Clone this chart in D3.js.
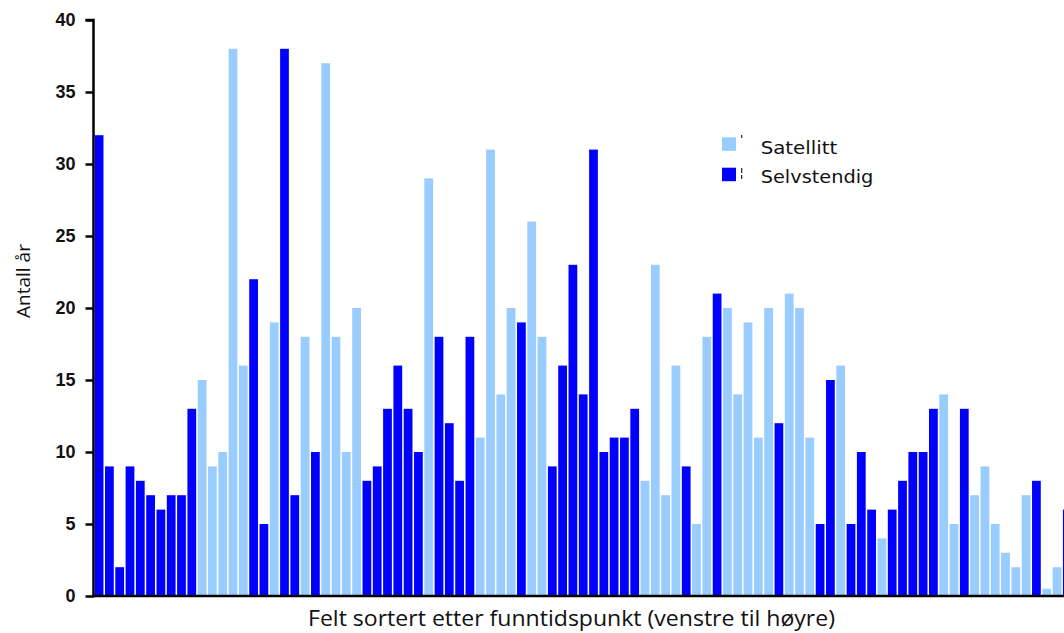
<!DOCTYPE html>
<html><head><meta charset="utf-8">
<script src="https://cdn.jsdelivr.net/npm/d3@7"></script>
<style>html,body{margin:0;padding:0;background:#fff;}svg{display:block;}</style>
</head><body>
<svg id="chart" width="1064" height="633"></svg>
<script>
// Field index (sorted by discovery time, left to right)
const values = [32,9,2,9,8,7,6,7,7,13, 15,9,10,38,16,22,5,19,38,7,
  18,10,37,18,10,20,8,9,13,16, 13,10,29,18,12,8,18,11,31,14,
  20,19,26,18,9,16,23,14,31,10, 11,11,13,8,23,7,16,9,5,18,
  21,20,14,19,11,20,12,21,20,11, 5,15,16,5,10,6,4,6,8,10,
  10,13,14,5,13,7,9,5,3,2, 7,8,0.5,2,6];
// S = Satellitt, D = Selvstendig
const types = ["D","D","D","D","D","D","D","D","D","D",
  "S","S","S","S","S","D","D","S","D","D",
  "S","D","S","S","S","S","D","D","D","D",
  "D","D","S","D","D","D","D","S","S","S",
  "S","D","S","S","D","D","D","D","D","D",
  "D","D","D","S","S","S","S","D","S","S",
  "D","S","S","S","S","S","D","S","S","S",
  "D","D","S","D","D","D","S","D","D","D",
  "D","D","S","S","D","S","S","S","S","S",
  "S","D","S","S","D"];
const categories = values.map((v,i)=>i+1);
const seriesNames = ["Satellitt","Selvstendig"];
const seriesKeys = ["S","D"];
const yTicks = [0,5,10,15,20,25,30,35,40];
const xTitle = "Felt sortert etter funntidspunkt (venstre til høyre)";
const yTitle = "Antall år";

const colors = {S:"#99CCFF", D:"#0000FF"};
const svg = d3.select("#chart");
const x = d3.scaleBand().domain(categories).range([94.2, 1072.2]).paddingInner(0.15).paddingOuter(0.05);
const y = d3.scaleLinear().domain([0,40]).range([596,20]);

const data = categories.map((c,i)=>({c, v:values[i], t:types[i]}));

svg.append("g").selectAll("rect").data(data).join("rect")
  .attr("x", d=>x(d.c)).attr("width", x.bandwidth())
  .attr("y", d=>y(d.v)).attr("height", d=>y(0)-y(d.v))
  .attr("fill", d=>colors[d.t]);

// y axis
const yAxis = d3.axisLeft(y).tickValues(yTicks).tickSize(8).tickPadding(10);
const gy = svg.append("g").attr("transform","translate(93.5,0)").call(yAxis);
gy.select(".domain").attr("stroke","#000").attr("stroke-width",2.5).attr("d","M-8,20H0V597.2");
gy.selectAll(".tick line").attr("stroke","#000").attr("stroke-width",2.5);
gy.selectAll(".tick text").attr("font-family","'Liberation Sans', Arial, sans-serif")
  .attr("font-weight","bold").attr("font-size","18px").attr("fill","#111");

// x axis line
const xAxis = d3.axisBottom(x).tickValues([]).tickSize(0);
const gx = svg.append("g").attr("transform","translate(0,596)").call(xAxis);
gx.select(".domain").attr("stroke","#000").attr("stroke-width",2.5).attr("d","M92.3,0H1064");

// titles
svg.append("text").attr("x",308).attr("y",626)
  .attr("font-family","'Open Sans', 'Noto Sans', sans-serif").attr("font-size","21px").attr("fill","#111")
  .attr("textLength",527).attr("lengthAdjust","spacingAndGlyphs")
  .text(xTitle);
svg.append("text").attr("transform","translate(30,281) rotate(-90)").attr("text-anchor","middle")
  .attr("font-family","'Open Sans', 'Noto Sans', sans-serif").attr("font-size","19px").attr("fill","#111")
  .text(yTitle);

// legend
const legendY = [137.3, 167.7];
const legendBase = [154, 182.7];
const legendW = [76.6, 112.7];
const lg = svg.append("g");
seriesKeys.forEach((k,i)=>{
  lg.append("rect").attr("x",722).attr("y",legendY[i]).attr("width",14).attr("height",13.5).attr("fill",colors[k]);
  lg.append("text").attr("x",760.7).attr("y",legendBase[i])
    .attr("font-family","'DejaVu Sans', Verdana, sans-serif").attr("font-size","18px").attr("fill","#111")
    .attr("textLength",legendW[i]).attr("lengthAdjust","spacingAndGlyphs")
    .text(seriesNames[i]);
});
lg.append("rect").attr("x",741).attr("y",135).attr("width",1.3).attr("height",3).attr("fill","#333");
lg.append("rect").attr("x",741).attr("y",168).attr("width",1.3).attr("height",5).attr("fill","#333");
lg.append("rect").attr("x",741).attr("y",175).attr("width",1.3).attr("height",4).attr("fill","#333");
</script>
</body></html>
